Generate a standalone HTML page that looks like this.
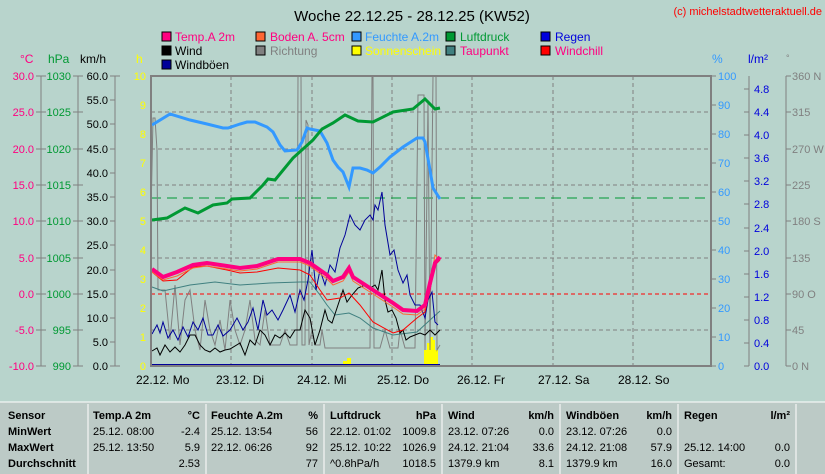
<!DOCTYPE html>
<html><head><meta charset="utf-8"><style>
body{margin:0;background:#b8d4cc;}
svg{display:block;font-family:"Liberation Sans",sans-serif;}
.t{font-size:12px}
.a{font-size:11px}
.s{font-size:11px}
</style></head><body>
<svg width="825" height="474" viewBox="0 0 825 474" xmlns="http://www.w3.org/2000/svg">
<rect width="825" height="474" fill="#b8d4cc"/>
<text x="412" y="21" font-size="15" text-anchor="middle" fill="#000">Woche 22.12.25 - 28.12.25 (KW52)</text>
<text x="822" y="15" font-size="11" text-anchor="end" fill="#ff0000">(c) michelstadtwetteraktuell.de</text>
<g class="t">
<rect x="162" y="32" width="9" height="9" fill="#ff0080" stroke="#000"/><text x="175" y="41" fill="#ff0080">Temp.A 2m</text>
<rect x="256" y="32" width="9" height="9" fill="#ff6633" stroke="#000"/><text x="270" y="41" fill="#ff0080">Boden A. 5cm</text>
<rect x="352" y="32" width="9" height="9" fill="#3399ff" stroke="#000"/><text x="365" y="41" fill="#3399ff">Feuchte A.2m</text>
<rect x="446" y="32" width="9" height="9" fill="#009933" stroke="#000"/><text x="460" y="41" fill="#009933">Luftdruck</text>
<rect x="541" y="32" width="9" height="9" fill="#0000dd" stroke="#000"/><text x="555" y="41" fill="#0000dd">Regen</text>
<rect x="162" y="46" width="9" height="9" fill="#000" stroke="#000"/><text x="175" y="55" fill="#000">Wind</text>
<rect x="256" y="46" width="9" height="9" fill="#808080" stroke="#000"/><text x="270" y="55" fill="#808080">Richtung</text>
<rect x="352" y="46" width="9" height="9" fill="#ffff00" stroke="#000"/><text x="365" y="55" fill="#ffff00">Sonnenschein</text>
<rect x="446" y="46" width="9" height="9" fill="#408080" stroke="#000"/><text x="460" y="55" fill="#ff0080">Taupunkt</text>
<rect x="541" y="46" width="9" height="9" fill="#ff0000" stroke="#000"/><text x="555" y="55" fill="#ff0080">Windchill</text>
<rect x="162" y="60" width="9" height="9" fill="#000099" stroke="#000"/><text x="175" y="69" fill="#000">Windböen</text>
</g>
<g class="t">
<text x="20" y="63" fill="#ff0080">°C</text>
<text x="48" y="63" fill="#009933">hPa</text>
<text x="80" y="63" fill="#000">km/h</text>
<text x="136" y="63" fill="#ffff00">h</text>
<text x="712" y="63" fill="#3399ff">%</text>
<text x="748" y="63" fill="#0000dd">l/m²</text>
<text x="786" y="61" fill="#808080" font-size="9">°</text>
</g>
<g stroke="#808080" fill="none">
<line x1="41" y1="76" x2="41" y2="366"/><line x1="78" y1="76" x2="78" y2="366"/><line x1="115" y1="76" x2="115" y2="366"/>
<line x1="749" y1="76" x2="749" y2="366"/><line x1="786" y1="76" x2="786" y2="366"/>
</g>
<g class="a" text-anchor="end">
<g fill="#ff0080">
<text x="34" y="80">30.0</text><text x="34" y="116">25.0</text><text x="34" y="153">20.0</text><text x="34" y="189">15.0</text><text x="34" y="225">10.0</text><text x="34" y="262">5.0</text><text x="34" y="298">0.0</text><text x="34" y="334">-5.0</text><text x="34" y="370">-10.0</text>
</g>
<g fill="#009933">
<text x="71" y="80">1030</text><text x="71" y="116">1025</text><text x="71" y="153">1020</text><text x="71" y="189">1015</text><text x="71" y="225">1010</text><text x="71" y="262">1005</text><text x="71" y="298">1000</text><text x="71" y="334">995</text><text x="71" y="370">990</text>
</g>
<g fill="#000">
<text x="108" y="80">60.0</text><text x="108" y="104">55.0</text><text x="108" y="128">50.0</text><text x="108" y="153">45.0</text><text x="108" y="177">40.0</text><text x="108" y="201">35.0</text><text x="108" y="225">30.0</text><text x="108" y="249">25.0</text><text x="108" y="274">20.0</text><text x="108" y="298">15.0</text><text x="108" y="322">10.0</text><text x="108" y="346">5.0</text><text x="108" y="370">0.0</text>
</g>
<g fill="#ffff00">
<text x="146" y="80">10</text><text x="146" y="109">9</text><text x="146" y="138">8</text><text x="146" y="167">7</text><text x="146" y="196">6</text><text x="146" y="225">5</text><text x="146" y="254">4</text><text x="146" y="283">3</text><text x="146" y="312">2</text><text x="146" y="341">1</text><text x="146" y="370">0</text>
</g>
</g>
<g stroke="#808080">
<path d="M36 76h5M36 112h5M36 149h5M36 185h5M36 221h5M36 258h5M36 294h5M36 330h5M36 366h5M41 76h5M41 112h5M41 149h5M41 185h5M41 221h5M41 258h5M41 294h5M41 330h5M41 366h5"/>
<path d="M73 76h5M73 112h5M73 149h5M73 185h5M73 221h5M73 258h5M73 294h5M73 330h5M73 366h5M78 76h5M78 112h5M78 149h5M78 185h5M78 221h5M78 258h5M78 294h5M78 330h5M78 366h5"/>
<path d="M110 76h10M110 100h5M110 124h5M110 149h5M110 173h5M110 197h5M110 221h5M110 245h5M110 270h5M110 294h5M110 318h5M110 342h5M110 366h10"/>
<path d="M711 76h5M711 105h5M711 134h5M711 163h5M711 192h5M711 221h5M711 250h5M711 279h5M711 308h5M711 337h5M711 366h5"/>
<path d="M744 89h5M744 112h5M744 135h5M744 158h5M744 181h5M744 204h5M744 228h5M744 251h5M744 274h5M744 297h5M744 320h5M744 343h5M744 366h5"/>
<path d="M786 76h5M786 112h5M786 149h5M786 185h5M786 221h5M786 258h5M786 294h5M786 330h5M786 366h5"/>
</g>
<g class="a">
<g fill="#3399ff"><text x="718" y="80">100</text><text x="718" y="109">90</text><text x="718" y="138">80</text><text x="718" y="167">70</text><text x="718" y="196">60</text><text x="718" y="225">50</text><text x="718" y="254">40</text><text x="718" y="283">30</text><text x="718" y="312">20</text><text x="718" y="341">10</text><text x="718" y="370">0</text></g>
<g fill="#0000dd"><text x="754" y="93">4.8</text><text x="754" y="116">4.4</text><text x="754" y="139">4.0</text><text x="754" y="162">3.6</text><text x="754" y="185">3.2</text><text x="754" y="208">2.8</text><text x="754" y="232">2.4</text><text x="754" y="255">2.0</text><text x="754" y="278">1.6</text><text x="754" y="301">1.2</text><text x="754" y="324">0.8</text><text x="754" y="347">0.4</text><text x="754" y="370">0.0</text></g>
<g fill="#808080"><text x="792" y="80">360 N</text><text x="792" y="116">315</text><text x="792" y="153">270 W</text><text x="792" y="189">225</text><text x="792" y="225">180 S</text><text x="792" y="262">135</text><text x="792" y="298">90  O</text><text x="792" y="334">45</text><text x="792" y="370">0   N</text></g>
</g>
<g stroke="#808080" stroke-dasharray="4,3">
<path d="M151 112H711M151 149H711M151 185H711M151 221H711M151 258H711M151 330H711"/>
<path d="M231 76V366M312 76V366M392 76V366M472 76V366M553 76V366M633 76V366"/>
</g>
<line x1="151" y1="294" x2="711" y2="294" stroke="#ff0000" stroke-dasharray="4,3"/>
<line x1="151" y1="198" x2="711" y2="198" stroke="#009933" stroke-dasharray="10,6"/>
<g class="t" fill="#000">
<text x="136" y="384">22.12.  Mo</text><text x="216" y="384">23.12.  Di</text><text x="297" y="384">24.12.  Mi</text><text x="377" y="384">25.12.  Do</text><text x="457" y="384">26.12.  Fr</text><text x="538" y="384">27.12.  Sa</text><text x="618" y="384">28.12.  So</text>
</g>
<path d="M343 366V361H347V358H351V366Z" fill="#ffff00"/>
<path d="M424 366V350H427V343H430V337H433V340H435V350H438V366Z" fill="#ffff00"/>
<polyline fill="none" stroke="#808080" points="151,215 153,118 155,118 157,150 158,290 165,290 170,340 175,285 180,345 185,300 190,290 195,330 200,350 205,300 210,330 215,345 220,320 225,350 230,300 235,330 240,345 245,330 250,300 255,340 260,345 265,310 270,345 280,345 285,330 290,345 297,345 298,76 301,76 302,345 305,345 306,120 308,125 309,345 312,330 315,345 320,345 322,330 325,348 340,348 370,348 372,76 373,76 374,348 380,348 385,330 390,348 398,348 400,330 405,348 415,348 418,95 424,95 425,350 428,100 430,350 433,76 436,76 437,350 440,345"/>
<polyline fill="none" stroke="#408080" points="152,287 163,291 190,285 215,282 240,285 270,283 300,282 310,282 320,295 327,305 335,315 349,313 360,318 373,328 393,335 417,332 430,320 440,311"/>
<polyline fill="none" stroke="#000099" points="152,334 157,325 160,333 163,322 168,338 173,330 178,340 183,327 188,337 193,322 198,330 203,318 208,335 213,335 218,325 223,336 230,330 237,318 243,330 248,322 253,308 258,330 263,300 267,315 272,310 278,320 283,310 290,295 295,312 300,290 304,300 308,280 312,250 316,290 320,270 325,285 330,265 335,272 340,248 345,235 350,215 355,225 360,230 365,220 370,215 373,220 375,205 378,210 382,192 385,225 390,255 394,250 398,270 403,283 407,275 410,295 415,305 420,305 425,318 428,300 432,292 435,322 438,325"/>
<polyline fill="none" stroke="#000" points="152,351 157,348 160,355 165,345 170,352 175,347 180,352 185,345 190,335 195,335 200,345 205,350 210,352 215,348 220,352 225,350 230,349 240,343 245,355 250,340 255,345 260,330 265,335 270,345 275,335 280,338 285,333 290,338 295,330 300,330 305,310 310,318 315,345 320,330 325,310 328,320 332,323 338,305 343,290 347,302 352,295 358,288 365,285 370,288 375,285 378,290 382,270 385,300 388,312 392,310 396,318 400,333 403,330 406,340 410,337 415,335 420,333 425,335 430,330 435,335 440,330"/>
<polyline fill="none" stroke="#ff0000" points="152,272 163,281 177,280 193,267 207,266 227,270 240,273 257,272 278,268 300,270 310,275 320,290 327,300 340,298 349,293 360,305 373,322 393,333 403,330 417,318 425,312 430,290 435,265 440,260"/>
<polyline fill="none" stroke="#ff6633" points="152,272 163,280 177,276 193,268 207,266 227,269 240,271 257,269 278,262 300,262 310,266 327,279 333,285 343,281 349,272 353,281 373,294 393,307 403,314 417,315 425,309 430,285 435,255 440,260"/>
<polyline fill="none" stroke="#ff0080" stroke-width="4" points="152,269 163,277 177,272 193,265 207,263 227,266 240,268 257,266 278,259 300,259 310,263 327,275 333,281 343,277 349,268 353,277 373,290 393,303 403,310 417,311 425,305 430,283 435,263 440,257"/>
<polyline fill="none" stroke="#3399ff" stroke-width="3" points="152,125 170,114 190,120 207,124 223,128 228,128 240,124 247,122 255,122 267,127 273,132 280,145 285,151 297,150 302,142 307,128 310,129 320,131 327,143 333,160 338,167 343,172 349,187 353,168 360,168 367,170 373,173 380,167 390,157 403,147 417,138 423,138 425,142 430,170 433,188 440,199"/>
<polyline fill="none" stroke="#009933" stroke-width="3" points="152,220 167,218 185,208 198,213 213,205 227,203 232,199 250,198 263,185 268,179 275,180 293,158 313,140 322,129 333,123 345,115 358,121 373,122 393,112 413,109 425,99 435,109 440,108"/>
<line x1="151" y1="365" x2="440" y2="365" stroke="#000099" stroke-width="2"/>
<rect x="151" y="76" width="560" height="290" fill="none" stroke="#808080" stroke-width="2"/>
<rect x="0" y="402" width="825" height="72" fill="#bccac6"/>
<line x1="0" y1="402" x2="825" y2="402" stroke="#ffffff"/>
<g stroke="#ffffff"><path d="M88 404V474M206 404V474M324 404V474M442 404V474M560 404V474M678 404V474M796 404V474"/></g>
<g class="s" fill="#000">
<g font-weight="bold">
<text x="8" y="419">Sensor</text><text x="8" y="435">MinWert</text><text x="8" y="451">MaxWert</text><text x="8" y="467">Durchschnitt</text>
<text x="93" y="419">Temp.A 2m</text><text x="200" y="419" text-anchor="end">°C</text>
<text x="211" y="419">Feuchte A.2m</text><text x="318" y="419" text-anchor="end">%</text>
<text x="330" y="419">Luftdruck</text><text x="436" y="419" text-anchor="end">hPa</text>
<text x="448" y="419">Wind</text><text x="554" y="419" text-anchor="end">km/h</text>
<text x="566" y="419">Windböen</text><text x="672" y="419" text-anchor="end">km/h</text>
<text x="684" y="419">Regen</text><text x="790" y="419" text-anchor="end">l/m²</text>
</g>
<text x="93" y="435">25.12.  08:00</text><text x="200" y="435" text-anchor="end">-2.4</text>
<text x="93" y="451">25.12.  13:50</text><text x="200" y="451" text-anchor="end">5.9</text>
<text x="200" y="467" text-anchor="end">2.53</text>
<text x="211" y="435">25.12.  13:54</text><text x="318" y="435" text-anchor="end">56</text>
<text x="211" y="451">22.12.  06:26</text><text x="318" y="451" text-anchor="end">92</text>
<text x="318" y="467" text-anchor="end">77</text>
<text x="330" y="435">22.12.  01:02</text><text x="436" y="435" text-anchor="end">1009.8</text>
<text x="330" y="451">25.12.  10:22</text><text x="436" y="451" text-anchor="end">1026.9</text>
<text x="330" y="467">^0.8hPa/h</text><text x="436" y="467" text-anchor="end">1018.5</text>
<text x="448" y="435">23.12.  07:26</text><text x="554" y="435" text-anchor="end">0.0</text>
<text x="448" y="451">24.12.  21:04</text><text x="554" y="451" text-anchor="end">33.6</text>
<text x="448" y="467">1379.9 km</text><text x="554" y="467" text-anchor="end">8.1</text>
<text x="566" y="435">23.12.  07:26</text><text x="672" y="435" text-anchor="end">0.0</text>
<text x="566" y="451">24.12.  21:08</text><text x="672" y="451" text-anchor="end">57.9</text>
<text x="566" y="467">1379.9 km</text><text x="672" y="467" text-anchor="end">16.0</text>
<text x="684" y="451">25.12.  14:00</text><text x="790" y="451" text-anchor="end">0.0</text>
<text x="684" y="467">Gesamt:</text><text x="790" y="467" text-anchor="end">0.0</text>
</g>
</svg>
</body></html>
